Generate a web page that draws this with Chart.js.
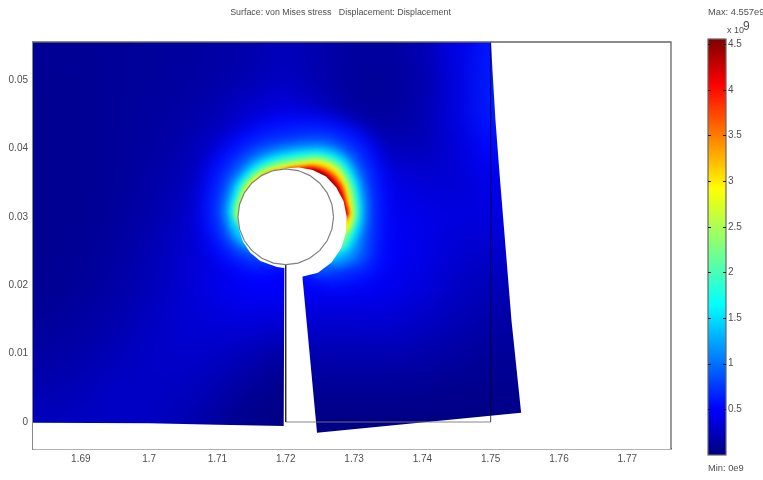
<!DOCTYPE html>
<html><head><meta charset="utf-8">
<style>
html,body{margin:0;padding:0;background:#fff;width:763px;height:480px;overflow:hidden}
canvas{position:absolute;top:0;filter:blur(0.45px)}
#main{left:0}
#bar{left:690px}
</style>
<script src="https://cdn.jsdelivr.net/npm/chart.js@4"></script>
</head><body>
<canvas id="main" width="763" height="480"></canvas>
<canvas id="bar" width="73" height="480"></canvas>
<script>
const xTicks=[1.69,1.7,1.71,1.72,1.73,1.74,1.75,1.76,1.77];
const yTicks=[0,0.01,0.02,0.03,0.04,0.05];
const barTicks=[0.5,1,1.5,2,2.5,3,3.5,4,4.5];
const titleText='Surface: von Mises stress   Displacement: Displacement';
const maxText='Max: 4.557e9', minText='Min: 0e9';
const fieldMax=4.557;
// background von Mises field, in units of 1e9
const cellXs=[1.685,1.69,1.695,1.7,1.705,1.71,1.715,1.72,1.725,1.73,1.735,1.74,1.745,1.75,1.755];
const cellYs=[0.055,0.05,0.045,0.04,0.035,0.03,0.025,0.02,0.015,0.01,0.005,0];
const cellValues=[
[.09,.09,.10,.11,.12,.14,.18,.24,.18,.13,.13,.20,.40,.60,.65],
[.08,.08,.10,.11,.13,.16,.20,.26,.18,.11,.10,.17,.38,.62,.70],
[.07,.08,.10,.12,.15,.20,.33,.42,.28,.12,.11,.18,.38,.62,.70],
[.07,.08,.10,.13,.18,.32,.45,.55,.45,.38,.24,.22,.35,.52,.60],
[.07,.08,.10,.15,.22,.38,.50,.55,.55,.50,.42,.34,.32,.42,.45],
[.07,.08,.11,.17,.27,.42,.50,.50,.55,.50,.45,.42,.38,.38,.40],
[.07,.09,.13,.20,.30,.42,.50,.50,.55,.50,.48,.42,.32,.30,.32],
[.08,.10,.15,.22,.31,.42,.50,.50,.50,.48,.45,.38,.28,.22,.22],
[.10,.13,.18,.25,.32,.36,.38,.35,.32,.33,.34,.28,.22,.16,.15],
[.14,.17,.22,.28,.30,.28,.22,.14,.20,.20,.20,.18,.14,.10,.10],
[.19,.22,.27,.28,.26,.20,.10,.04,.09,.09,.09,.08,.06,.05,.07],
[.24,.26,.28,.27,.20,.12,.04,.01,.02,.02,.02,.02,.02,.02,.05]];
// stress concentration round the hole: radius of each level along each ray from the hole centre
const holeCentre=[1.72,0.03], radiusUnit=1/6840;
const contourLevels=[.5,.6,.8,1,1.3,1.6,1.9,2.2,2.5,2.8,3.1,3.4,3.7,4,4.3];
const contourBlur=[5,4,3,2.2,1.6,1.2,1,.9,.9,.8,.8,.6,.6,.6,1];
const contourAngles=[-90,-60,-45,-30,-15,0,15,30,45,60,75,90,105,120,135,150,180,210,240,270];
const contourRadii=[
[50,48,40,40,40,40,40,40,40,40,40,40,40,40,40],
[84,74,66,40,40,40,40,40,40,40,40,40,40,40,40],
[100,88,76,70,62,40,40,40,40,40,40,40,40,40,40],
[112,100,90,81,72,66.5,64.5,60,40,40,40,40,40,40,40],
[106,96,87,80,75,70.5,67,65,63,61,55,40,40,40,40],
[104,94,86,81,77,74,71.5,69.5,68,66,64.5,63,61.5,60.5,57],
[106,96,88,83,78.5,75.5,73,70.5,68.5,66.5,65,63.5,62,60.5,59],
[111,101,92,86,81.5,78,75,72.5,70.5,68.5,67,65,63,61,59.5],
[116,104,94,88,83.5,79,76,73.5,71,69,66.5,64,62,60,58],
[112,100,91,84,78.5,74,71,68.5,66,63.5,61.5,59.5,57.5,56,54.5],
[106,94,83,76,70.5,66.5,62.5,59.5,57.5,55.5,54,52.5,51,49,40],
[100,88,77,71,65.5,61,58,55,53,51,49.5,48.5,47,40,40],
[98,86,76,69,63.5,59,56,53.5,51.5,50,48.5,40,40,40,40],
[96,84,75,68,62.5,58.5,55,53,51,49.5,48,40,40,40,40],
[94,82,73,66,61,57.5,54.5,52.5,50.5,49,40,40,40,40,40],
[92,80,71,65,60,56.5,53.5,51.5,49.5,48,40,40,40,40,40],
[86,76,67,62,57.5,54,52,50,48.5,40,40,40,40,40,40],
[80,70,62,56,51,40,40,40,40,40,40,40,40,40,40],
[68,60,50,40,40,40,40,40,40,40,40,40,40,40,40],
[50,48,40,40,40,40,40,40,40,40,40,40,40,40,40]];
// deformed body boundary
const bottomLeftX=[1.683,1.7,1.71,1.7197,1.7198];
const bottomLeftY=[-0.0001,-0.0002,-0.0004,-0.0006,0.0225];
const holeAngles=[-100,-120,-135,-150,-165,-180,-195,-210,-225,-240,-255,-270,-285,-300,-315,-330,-345,-360,-375,-390,-405,-420,-434];
const holeRadii=[51,51,50.5,49.5,48.5,48,48,48,48,48,48,48.5,51,54,57,58.5,60,61,62.3,63.8,64.8,64.5,62];
const rightEdgeX=[1.72244,1.72458,1.75446,1.75304,1.75202,1.75129,1.7507,1.75026,1.75004];
const rightEdgeY=[0.02124,-0.00156,0.00136,0.01491,0.02749,0.0364,0.04415,0.05146,0.05556];
const plotX=[1.683,1.7764], plotY=[-0.00395,0.05556];
// undeformed geometry
const slotX=[1.72,1.72], slotY=[0.023,0];
const baseX=[1.72,1.75], baseY=[0,0];
const edgeX=[1.75,1.75], edgeY=[0,0.05556];
const circleRadius=0.007;
const circleAngles=[0,15,30,45,60,75,90,105,120,135,150,165,180,195,210,225,240,255,270,285,300,315,330,345,360];

const jetStops=[[0,0,0,127],[.11,0,0,255],[.36,0,255,255],[.64,255,255,0],[.89,255,0,0],[1,127,0,0]];
function jet(v){
  const t=Math.min(1,Math.max(0,v/fieldMax));
  for(let i=1;i<jetStops.length;i++){
    if(t<=jetStops[i][0]){
      const a=jetStops[i-1],b=jetStops[i],f=(t-a[0])/(b[0]-a[0]);
      return 'rgb('+[1,2,3].map(k=>Math.round(a[k]+(b[k]-a[k])*f)).join(',')+')';
    }
  }
  return 'rgb(127,0,0)';
}
const polar=(deg,r)=>({x:holeCentre[0]+r*Math.cos(deg*Math.PI/180),y:holeCentre[1]+r*Math.sin(deg*Math.PI/180)});
const zip=(xs,ys)=>xs.map((x,i)=>({x,y:ys[i]}));

const cellPts=[],cellCols=[];
cellYs.forEach((y,r)=>cellXs.forEach((x,c)=>{cellPts.push({x,y});cellCols.push(jet(cellValues[r][c]));}));

const datasets=[];
datasets.push({label:'field',data:cellPts,showLine:false,pointStyle:'rect',pointRadius:25,pointHoverRadius:25,pointBorderWidth:0,pointBackgroundColor:cellCols});
const contourFirst=datasets.length;
contourLevels.forEach((lv,i)=>{
  const next=i+1<contourLevels.length?contourLevels[i+1]:fieldMax;
  datasets.push({label:'level '+lv,showLine:true,pointRadius:0,borderWidth:0,tension:0.35,fill:'shape',
    backgroundColor:jet((lv+next)/2),
    data:contourAngles.map((a,k)=>polar(a,contourRadii[k][i]*radiusUnit))});
});
const outside=[{x:plotX[0],y:plotY[0]}]
  .concat(zip(bottomLeftX,bottomLeftY))
  .concat(holeAngles.map((a,i)=>polar(a,holeRadii[i]*radiusUnit)))
  .concat(zip(rightEdgeX,rightEdgeY))
  .concat([{x:plotX[1],y:plotY[1]},{x:plotX[1],y:plotY[0]},{x:plotX[0],y:plotY[0]}]);
datasets.push({label:'outside',data:outside,showLine:true,pointRadius:0,borderWidth:0,tension:0,fill:'shape',backgroundColor:'#ffffff'});
datasets.push({label:'base',data:zip(baseX,baseY),showLine:true,pointRadius:0,borderWidth:1.3,borderColor:'rgba(120,120,120,0.6)',tension:0});
datasets.push({label:'edge',data:zip(edgeX,edgeY),showLine:true,pointRadius:0,borderWidth:1,borderColor:'rgba(0,0,40,0.75)',tension:0});
datasets.push({label:'slot',data:zip(slotX,slotY),showLine:true,pointRadius:0,borderWidth:1.4,borderColor:'#222',tension:0});
datasets.push({label:'hole',data:circleAngles.map(a=>polar(a,circleRadius)),showLine:true,pointRadius:0,borderWidth:1.2,borderColor:'#808080',tension:0});
datasets.forEach((d,i)=>{d.order=1000-i;});

function softenArea(chart,px){
  const a=chart.chartArea,c=chart.ctx,dpr=chart.currentDevicePixelRatio||1;
  c.save();
  c.beginPath();c.rect(a.left,a.top,a.right-a.left,a.bottom-a.top);c.clip();
  c.filter='blur('+px+'px)';
  c.drawImage(chart.canvas,a.left*dpr,a.top*dpr,(a.right-a.left)*dpr,(a.bottom-a.top)*dpr,a.left,a.top,a.right-a.left,a.bottom-a.top);
  c.restore();
}
const softener={id:'softener',afterDatasetDraw(chart,args){
  if(args.index===0)softenArea(chart,13);
  const k=args.index-contourFirst;
  if(k>=0&&k<contourLevels.length)softenArea(chart,contourBlur[k]);
}};
const textColor='#4f4f4f';
const font={family:'"Liberation Sans",Arial,sans-serif',size:10};
const frame={id:'frame',afterDraw(chart){
  const a=chart.chartArea,c=chart.ctx;c.save();c.strokeStyle='#666';c.lineWidth=1.3;
  c.beginPath();c.moveTo(a.left,a.top);c.lineTo(a.right,a.top);c.lineTo(a.right,a.bottom);c.stroke();
  c.fillStyle=textColor;c.font='8.85px "Liberation Sans",Arial,sans-serif';c.textAlign='center';c.textBaseline='alphabetic';
  c.fillText(titleText,340.5,15);
  c.restore();
}};

new Chart(document.getElementById('main'),{
  type:'scatter',
  data:{datasets},
  plugins:[softener,frame],
  options:{responsive:false,animation:false,events:[],
    layout:{padding:{left:0,top:42,right:92,bottom:0}},
    plugins:{legend:{display:false},tooltip:{enabled:false},title:{display:false}},
    scales:{
      x:{type:'linear',min:plotX[0],max:plotX[1],
        afterBuildTicks(s){s.ticks=xTicks.map(value=>({value}));},
        afterFit(s){s.height=31;},
        grid:{display:false,drawTicks:false},
        border:{display:true,color:'#666',width:1.5},
        ticks:{color:textColor,font,padding:4,maxRotation:0,autoSkip:false,callback:v=>String(+v.toFixed(2))}},
      y:{type:'linear',min:plotY[0],max:plotY[1],
        afterBuildTicks(s){s.ticks=yTicks.map(value=>({value}));},
        afterFit(s){s.width=33;},
        grid:{display:false,drawTicks:false},
        border:{display:true,color:'#888',width:1.5},
        ticks:{color:textColor,font,padding:5,autoSkip:false,callback:v=>String(+v.toFixed(2))}}
    }
  }
});

const barFill=ctx=>{
  const ch=ctx.chart,s=ch.scales.y;
  if(!s||!ch.chartArea)return '#00f';
  const g=ch.ctx.createLinearGradient(0,s.getPixelForValue(0),0,s.getPixelForValue(fieldMax));
  jetStops.forEach(p=>g.addColorStop(p[0],'rgb('+p[1]+','+p[2]+','+p[3]+')'));
  return g;
};
const barDecor={id:'barDecor',afterDraw(chart){
  const a=chart.chartArea,c=chart.ctx,s=chart.scales.y;
  c.save();c.strokeStyle='#666';c.lineWidth=1.2;c.strokeRect(a.left,a.top,a.right-a.left,a.bottom-a.top);
  c.strokeStyle='#111';c.lineWidth=1;
  barTicks.forEach(v=>{const y=Math.round(s.getPixelForValue(v))+.5;
    c.beginPath();c.moveTo(a.left,y);c.lineTo(a.left+3,y);c.moveTo(a.right-3,y);c.lineTo(a.right,y);c.stroke();});
  c.fillStyle=textColor;c.font='9.3px "Liberation Sans",Arial,sans-serif';c.textBaseline='alphabetic';
  c.fillText(maxText,18,15);
  c.fillText(minText,18,471);
  c.font='9px "Liberation Sans",Arial,sans-serif';
  c.fillText('x 10',37,33);
  c.font='12px "Liberation Sans",Arial,sans-serif';
  c.fillText('9',53,30);
  c.restore();
}};
new Chart(document.getElementById('bar'),{
  type:'bar',
  data:{labels:['stress'],datasets:[{data:[[0,fieldMax]],backgroundColor:barFill,barPercentage:1,categoryPercentage:1,borderWidth:0}]},
  plugins:[barDecor],
  options:{responsive:false,animation:false,events:[],
    layout:{padding:{left:18,top:39,right:0,bottom:25}},
    plugins:{legend:{display:false},tooltip:{enabled:false}},
    scales:{
      x:{display:false},
      y:{position:'right',min:0,max:fieldMax,
        afterBuildTicks(s){s.ticks=barTicks.map(value=>({value}));},
        afterFit(s){s.width=37;},
        grid:{display:false,drawTicks:false},border:{display:false},
        ticks:{color:textColor,font,padding:2,autoSkip:false,callback:v=>String(v)}}
    }
  }
});
</script>
</body></html>
